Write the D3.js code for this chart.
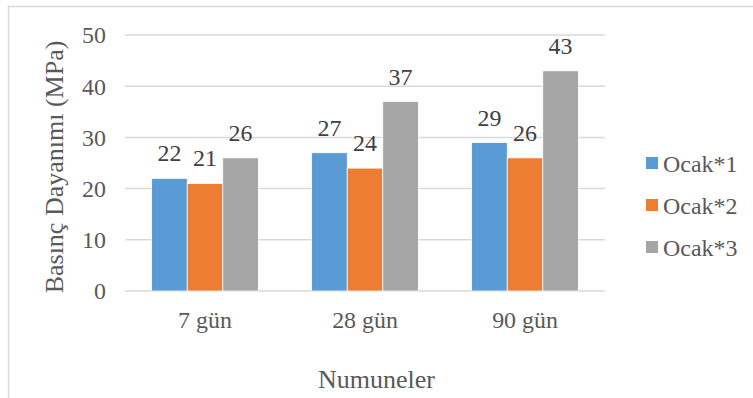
<!DOCTYPE html>
<html><head><meta charset="utf-8">
<script src="https://cdn.jsdelivr.net/npm/d3@7"></script>
<style>body{margin:0;background:#fff}svg{display:block}</style>
</head><body>
<svg id="c" width="753" height="398"></svg>
<script>
const categories = ["7 gün", "28 gün", "90 gün"];
const seriesNames = ["Ocak*1", "Ocak*2", "Ocak*3"];
const ocak1 = [22, 27, 29];
const ocak2 = [21, 24, 26];
const ocak3 = [26, 37, 43];
const yTicks = [0, 10, 20, 30, 40, 50];
const colors = ["#5B9BD5", "#ED7D31", "#A5A5A5"];
const seriesValues = [ocak1, ocak2, ocak3];

const svg = d3.select("#c");
const font = '"Liberation Serif"';

// chart border
svg.append("rect").attr("x", 8.5).attr("y", 6.5).attr("width", 800).attr("height", 500)
  .attr("fill", "none").attr("stroke", "#d9d9d9").attr("stroke-width", 1.5);

const x0 = d3.scaleBand().domain(categories).range([125, 605]).paddingInner(0).paddingOuter(0);
const y = d3.scaleLinear().domain([0, 50]).range([291, 35]);
const bw = x0.bandwidth() / 4.5;

// gridlines
yTicks.forEach(t => {
  svg.append("line").attr("x1", 125).attr("x2", 605).attr("y1", y(t)).attr("y2", y(t))
    .attr("stroke", "#d9d9d9").attr("stroke-width", 1.5);
});

// text helper: 26px font, scaled for smaller labels
function txt(x, yy, s, scale, fill, anchor, rot) {
  return svg.append("text").attr("x", 0).attr("y", 0).attr("text-anchor", anchor)
    .attr("transform", `translate(${x},${yy})${rot ? " rotate(" + rot + ")" : ""} scale(${scale})`)
    .style("font-family", font).style("font-size", "26px").attr("fill", fill).text(s);
}
const small = 0.92;

// y tick labels
yTicks.forEach(t => txt(106, y(t) + 8.3, t, small, "#595959", "end"));

// bars
const rows = [];
seriesValues.forEach((vals, s) => vals.forEach((v, i) => rows.push({s, i, v})));
const barX = d => x0(categories[d.i]) + bw * 0.75 + d.s * bw;
rows.forEach(d => {
  svg.append("rect").attr("x", barX(d)).attr("width", bw)
    .attr("y", y(d.v)).attr("height", y(0) - y(d.v))
    .attr("fill", colors[d.s]).attr("stroke", "#fff").attr("stroke-width", 0.75);
});

// value labels
rows.forEach(d => txt(barX(d) + bw / 2, y(d.v) - 17, d.v, small, "#404040", "middle"));

// x tick labels
categories.forEach(c => txt(x0(c) + x0.bandwidth() / 2, 328, c, small, "#595959", "middle"));

// axis titles
txt(376.5, 388, "Numuneler", 1, "#595959", "middle");
txt(63, 167, "Basınç Dayanımı (MPa)", 1, "#595959", "middle", -90);

// legend
seriesNames.forEach((n, i) => {
  const cy = 163 + i * 42;
  svg.append("rect").attr("x", 646).attr("y", cy - 6).attr("width", 12).attr("height", 12).attr("fill", colors[i]);
  txt(663, cy + 8.5, n, small, "#595959", "start");
});
</script>
</body></html>
